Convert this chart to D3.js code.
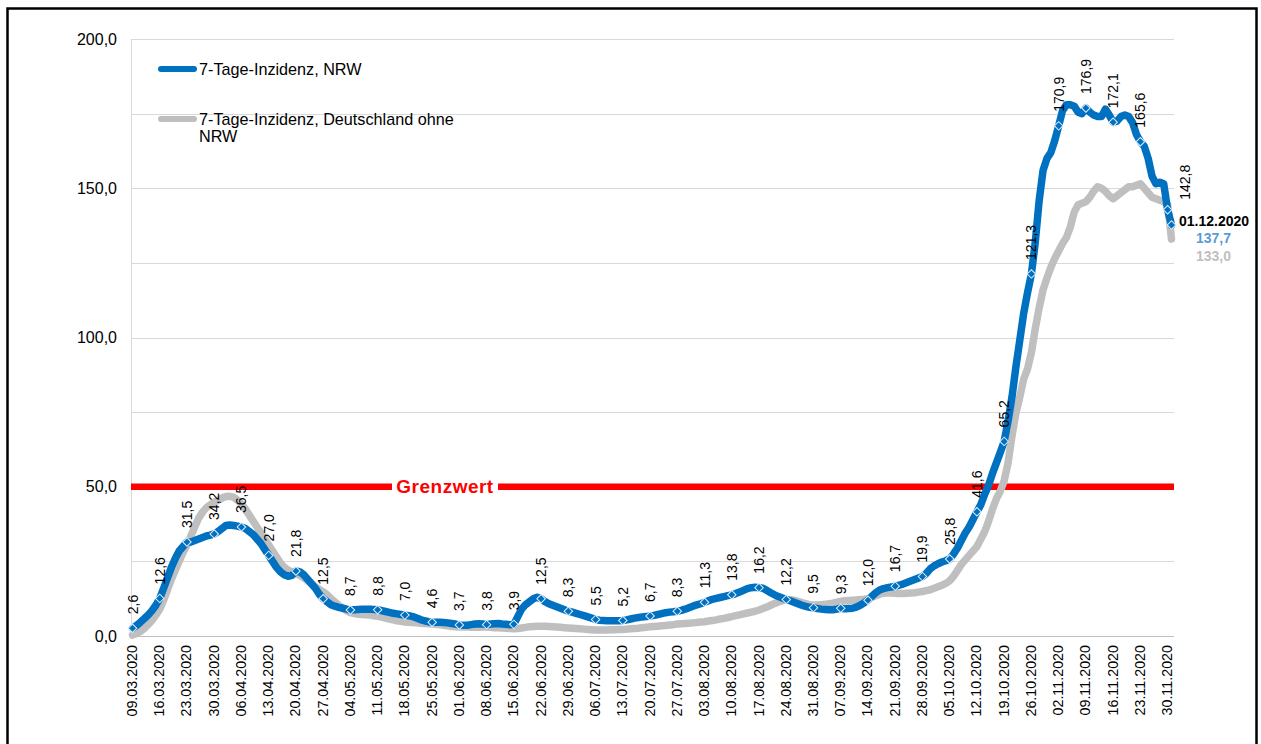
<!DOCTYPE html>
<html><head><meta charset="utf-8">
<script src="https://cdn.jsdelivr.net/npm/d3@7"></script>
<style>
body{margin:0;background:#fff}
svg{display:block}
text{font-family:"Liberation Sans",Arial,sans-serif}
</style>
</head><body>
<svg id="chart" width="1261" height="744"></svg>
<script>
// ---------- DATA ----------
const startDate = "09.03.2020";
const endDate = "01.12.2020";
const tickLabels = ["09.03.2020","16.03.2020","23.03.2020","30.03.2020","06.04.2020","13.04.2020","20.04.2020","27.04.2020",
  "04.05.2020","11.05.2020","18.05.2020","25.05.2020","01.06.2020","08.06.2020","15.06.2020","22.06.2020","29.06.2020",
  "06.07.2020","13.07.2020","20.07.2020","27.07.2020","03.08.2020","10.08.2020","17.08.2020","24.08.2020","31.08.2020",
  "07.09.2020","14.09.2020","21.09.2020","28.09.2020","05.10.2020","12.10.2020","19.10.2020","26.10.2020","02.11.2020",
  "09.11.2020","16.11.2020","23.11.2020","30.11.2020"];
const seriesNames = ["7-Tage-Inzidenz, NRW", "7-Tage-Inzidenz, Deutschland ohne NRW"];
const nrw = [
  2.6,3.5,4.6,5.8,7.0,8.5,10.3,12.6,
  16.0,19.5,23.0,26.0,28.5,30.0,31.5,
  31.5,32.0,32.5,33.0,33.5,33.8,34.2,
  35.0,36.0,37.0,37.2,37.0,36.8,36.5,
  36.0,35.0,34.0,32.5,31.0,29.0,27.0,
  25.0,23.0,21.5,20.5,20.0,20.3,21.8,
  21.5,20.5,19.0,17.5,16.0,14.0,12.5,
  11.5,10.5,10.0,9.6,9.3,9.0,8.7,
  8.8,8.9,9.0,9.0,9.0,8.9,8.8,
  8.5,8.2,7.9,7.6,7.4,7.2,7.0,
  6.8,6.5,6.0,5.5,5.1,4.8,4.6,
  4.6,4.6,4.5,4.4,4.2,4.0,3.7,
  3.6,3.6,3.8,4.0,4.1,4.0,3.8,
  4.0,4.1,4.2,4.0,3.9,3.8,3.9,
  6.5,9.0,10.5,11.5,12.5,13.0,12.5,
  11.5,10.8,10.3,9.8,9.3,8.8,8.3,
  8.0,7.6,7.2,6.8,6.4,6.0,5.5,
  5.3,5.2,5.1,5.1,5.1,5.1,5.2,
  5.4,5.7,6.0,6.2,6.4,6.5,6.7,
  6.9,7.2,7.5,7.8,8.0,8.1,8.3,
  8.6,9.0,9.5,10.0,10.4,10.8,11.3,
  11.8,12.3,12.6,12.9,13.2,13.5,13.8,
  14.2,14.7,15.3,15.9,16.2,16.3,16.2,
  16.0,15.3,14.5,13.8,13.2,12.7,12.2,
  11.8,11.3,10.8,10.3,9.9,9.6,9.5,
  9.2,9.0,8.9,8.8,8.8,9.0,9.3,
  9.1,9.2,9.3,9.7,10.3,11.1,12.0,
  13.3,14.5,15.4,15.9,16.2,16.4,16.7,
  17.0,17.4,17.9,18.4,18.9,19.4,19.9,
  21.0,22.5,23.5,24.2,24.8,25.2,25.8,
  27.5,29.5,32.0,34.5,36.5,39.0,41.6,
  44.0,47.5,50.5,54.5,58.0,61.5,65.2,
  72.0,80.0,90.0,99.0,108.0,115.0,121.3,
  132.0,146.0,156.0,160.0,162.0,166.0,170.9,
  176.0,178.0,178.0,177.5,175.5,175.0,176.9,
  175.5,174.5,174.0,174.0,176.5,174.5,172.1,
  172.5,174.0,174.5,174.0,172.0,168.0,165.6,
  164.0,160.0,154.0,151.5,152.0,151.5,142.8,
  137.7];
const deOhneNrw = [
  0.3,0.8,1.5,2.5,3.8,5.2,7.0,9.0,
  12.0,15.5,19.0,22.0,25.0,28.0,30.5,
  33.5,36.5,39.5,41.5,43.0,44.0,44.8,
  45.5,46.2,46.7,46.8,46.5,45.5,44.2,
  42.5,40.5,38.5,36.5,34.5,32.5,30.5,
  28.5,26.5,24.5,23.0,22.0,21.5,21.0,
  20.3,19.5,18.5,17.5,16.5,15.6,14.8,
  13.8,12.6,11.4,10.3,9.4,8.5,7.8,
  7.5,7.3,7.2,7.1,7.0,6.8,6.6,
  6.3,6.0,5.7,5.4,5.1,4.9,4.7,
  4.6,4.5,4.4,4.3,4.2,4.1,4.0,
  3.9,3.8,3.6,3.4,3.2,3.1,3.0,
  3.0,3.0,2.9,2.9,2.9,3.0,3.0,
  2.9,2.8,2.8,2.7,2.6,2.5,2.4,
  2.5,2.7,2.9,3.1,3.2,3.3,3.3,
  3.3,3.2,3.1,3.0,2.9,2.8,2.7,
  2.6,2.5,2.4,2.3,2.2,2.1,2.0,
  2.0,2.0,2.0,2.1,2.1,2.2,2.2,
  2.3,2.4,2.5,2.6,2.8,2.9,3.1,
  3.2,3.3,3.4,3.5,3.7,3.8,4.0,
  4.1,4.2,4.3,4.4,4.5,4.7,4.8,
  5.0,5.2,5.4,5.7,5.9,6.2,6.5,
  6.8,7.1,7.4,7.7,8.0,8.3,8.7,
  9.2,9.7,10.3,10.9,11.4,11.8,12.1,
  12.2,12.0,11.6,11.2,10.8,10.5,10.4,
  10.4,10.5,10.6,10.8,11.0,11.3,11.6,
  11.8,11.9,12.0,12.1,12.2,12.3,12.5,
  13.0,13.5,14.0,14.3,14.4,14.4,14.3,
  14.2,14.2,14.3,14.4,14.5,14.7,14.9,
  15.2,15.5,16.0,16.5,17.0,17.6,18.5,
  20.0,22.0,24.0,25.5,27.0,28.5,30.0,
  32.5,35.0,38.5,42.5,46.0,48.5,52.0,
  58.0,67.0,74.6,80.0,86.0,89.5,95.0,
  103.0,110.0,116.0,120.0,123.5,126.5,129.0,
  131.5,133.5,137.0,142.0,144.5,145.0,145.5,
  147.0,149.0,150.5,150.0,149.0,147.5,146.5,
  147.5,148.5,149.5,150.5,150.5,151.0,151.5,
  150.0,148.5,147.0,146.5,146.0,145.5,144.5,
  133.0];
const threshold = 50;
const thresholdLabel = "Grenzwert";
const yTicks = [0, 50, 100, 150, 200];
const yGrid = [25, 50, 75, 100, 125, 150, 175, 200];

// ---------- SETUP ----------
const parse = d3.utcParse("%d.%m.%Y");
const d0 = parse(startDate), d1 = parse(endDate);
const dates = nrw.map((_, i) => d3.utcDay.offset(d0, i));
const de = d3.formatLocale({decimal: ",", thousands: ".", grouping: [3], currency: ["", "€"]});
const fmt = de.format(".1f");

const svg = d3.select("#chart");
const plot = {left: 131, right: 1174, top: 39, bottom: 636};
const x = d3.scaleUtc().domain([d0, d1]).range([132.5, 1171.5]);
const y = d3.scaleLinear().domain([0, 200]).range([plot.bottom, plot.top]);

const BLUE = "#0070c0", GRAY = "#bfbfbf", RED = "#ff0000";

// frame
svg.append("rect").attr("x", 7.5).attr("y", 8.5).attr("width", 1249).attr("height", 760)
  .attr("fill", "none").attr("stroke", "#000").attr("stroke-width", 2.5);

// gridlines
svg.append("g").selectAll("line").data(yGrid).join("line")
  .attr("x1", plot.left).attr("x2", plot.right)
  .attr("y1", d => Math.round(y(d)) + 0.5).attr("y2", d => Math.round(y(d)) + 0.5)
  .attr("stroke", "#d9d9d9").attr("stroke-width", 1);

// axes lines
svg.append("line").attr("x1", plot.left + 0.5).attr("x2", plot.left + 0.5)
  .attr("y1", plot.top).attr("y2", plot.bottom).attr("stroke", "#d9d9d9");
svg.append("line").attr("x1", plot.left).attr("x2", plot.right)
  .attr("y1", plot.bottom + 0.5).attr("y2", plot.bottom + 0.5).attr("stroke", "#bfbfbf");

// y axis labels
const yAxis = d3.axisLeft(y).tickValues(yTicks).tickFormat(fmt).tickSize(0).tickPadding(14);
const gy = svg.append("g").attr("transform", `translate(${plot.left},0)`).call(yAxis);
gy.select(".domain").remove();
gy.selectAll("text").attr("font-size", 16).attr("fill", "#000")
  .attr("font-family", '"Liberation Sans",Arial,sans-serif');

// x axis labels
const tickDates = tickLabels.map(parse);
const xAxis = d3.axisBottom(x).tickValues(tickDates).tickFormat((d, i) => tickLabels[i]).tickSize(0).tickPadding(0);
const gx = svg.append("g").attr("transform", `translate(0,${plot.bottom})`).call(xAxis);
gx.select(".domain").remove();
gx.selectAll("text")
  .attr("font-size", 14.3).attr("fill", "#000")
  .attr("font-family", '"Liberation Sans",Arial,sans-serif')
  .attr("text-anchor", "end").attr("dy", null).attr("y", 0)
  .attr("dominant-baseline", "central")
  .attr("transform", "translate(-1,9) rotate(-90)");

// threshold line
svg.append("line").attr("x1", plot.left).attr("x2", plot.right)
  .attr("y1", y(threshold)).attr("y2", y(threshold))
  .attr("stroke", RED).attr("stroke-width", 6.5);

// series lines
const line = d3.line().x((d, i) => x(dates[i])).y(d => y(d));
svg.append("path").datum(deOhneNrw).attr("d", line)
  .attr("fill", "none").attr("stroke", GRAY).attr("stroke-width", 7.5)
  .attr("stroke-linejoin", "round").attr("stroke-linecap", "round");
svg.append("path").datum(nrw).attr("d", line)
  .attr("fill", "none").attr("stroke", BLUE).attr("stroke-width", 7.5)
  .attr("stroke-linejoin", "round").attr("stroke-linecap", "round");

// threshold label with white box
const gl = svg.append("g");
gl.append("rect").attr("x", 392).attr("y", y(threshold) - 11).attr("width", 106).attr("height", 22).attr("fill", "#fff");
gl.append("text").attr("x", 445).attr("y", y(threshold)).attr("text-anchor", "middle")
  .attr("dominant-baseline", "central").attr("font-size", 19).attr("font-weight", "bold")
  .attr("letter-spacing", 0.5).attr("fill", RED).text(thresholdLabel);

// markers (weekly + last day)
const markIdx = nrw.map((_, i) => i).filter(i => i % 7 === 0 || i === nrw.length - 1);
svg.append("g").selectAll("path").data(markIdx).join("path")
  .attr("d", d3.symbol(d3.symbolSquare, 36))
  .attr("transform", i => `translate(${x(dates[i])},${y(nrw[i])}) rotate(45)`)
  .attr("fill", BLUE).attr("stroke", "#e3eef9").attr("stroke-width", 1);

// data labels (weekly)
const labIdx = markIdx.filter(i => i !== nrw.length - 1);
svg.append("g").selectAll("text").data(labIdx).join("text")
  .attr("transform", i => {
    const last = i === labIdx[labIdx.length - 1];
    const px = x(dates[i]) + (last ? 17 : 0);
    const py = y(nrw[i]) - (last ? 10 : 14);
    return `translate(${px},${py}) rotate(-90)`;
  })
  .attr("text-anchor", "start").attr("dominant-baseline", "central")
  .attr("font-size", 14).attr("fill", "#000")
  .text(i => fmt(nrw[i]));

// end labels
const li = nrw.length - 1;
svg.append("text").attr("x", 1179).attr("y", 221).attr("dominant-baseline", "central")
  .attr("font-size", 14).attr("font-weight", "bold").attr("fill", "#000").text(endDate);
svg.append("text").attr("x", 1196).attr("y", 238).attr("dominant-baseline", "central")
  .attr("font-size", 14).attr("font-weight", "bold").attr("fill", "#5b9bd5").text(fmt(nrw[li]));
svg.append("text").attr("x", 1196).attr("y", 256).attr("dominant-baseline", "central")
  .attr("font-size", 14).attr("font-weight", "bold").attr("fill", GRAY).text(fmt(deOhneNrw[li]));

// legend
const lg = svg.append("g");
lg.append("line").attr("x1", 161).attr("x2", 194).attr("y1", 69).attr("y2", 69)
  .attr("stroke", BLUE).attr("stroke-width", 6).attr("stroke-linecap", "round");
lg.append("text").attr("x", 199).attr("y", 69).attr("dominant-baseline", "central")
  .attr("font-size", 16.2).attr("fill", "#000").text(seriesNames[0]);
lg.append("line").attr("x1", 161).attr("x2", 194).attr("y1", 119).attr("y2", 119)
  .attr("stroke", GRAY).attr("stroke-width", 6).attr("stroke-linecap", "round");
const words = seriesNames[1].split(" ");
const t2 = lg.append("text").attr("x", 199).attr("y", 119).attr("dominant-baseline", "central")
  .attr("font-size", 16.2).attr("fill", "#000");
t2.append("tspan").attr("x", 199).text(words.slice(0, -1).join(" "));
t2.append("tspan").attr("x", 199).attr("dy", 17).text(words[words.length - 1]);
</script>
</body></html>
